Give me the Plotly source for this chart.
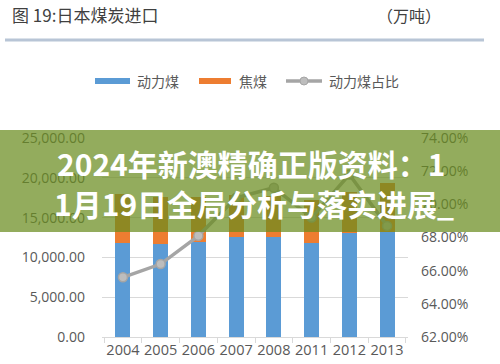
import plotly.graph_objects as go

years = ["2004", "2005", "2006", "2007", "2008", "2011", "2012", "2013"]
steam_coal = [11800, 11700, 11950, 12550, 12550, 11800, 13050, 13200]
coking_coal = [6200, 5900, 5600, 5300, 5200, 5400, 5200, 6200]
steam_share = [65.6, 66.4, 68.1, 70.4, 71.0, 69.2, 71.8, 68.7]

left_ticks = [0, 5000, 10000, 15000, 20000, 25000]
left_labels = ["0.00", "5,000.00", "10,000.00", "15,000.00", "20,000.00", "25,000.00"]
right_ticks = [62, 64, 66, 68, 70, 72, 74]
right_labels = ["62.00%", "64.00%", "66.00%", "68.00%", "70.00%", "72.00%", "74.00%"]

W, H = 500, 364
L, R, T, B = 102, 92, 138, 27

def px(x):
    return (x - L) / (W - L - R)

def py(y):
    return (H - B - y) / (H - T - B)

FONT = "Open Sans, Noto Sans CJK SC, sans-serif"
CJK = "Noto Sans CJK SC, sans-serif"
TXT = "#595959"

fig = go.Figure()
fig.add_trace(go.Bar(x=years, y=steam_coal, name="动力煤", marker_color="#5b9bd5",
                     marker_line_width=0))
fig.add_trace(go.Bar(x=years, y=coking_coal, name="焦煤", marker_color="#ed7d31",
                     marker_line_width=0))
fig.add_trace(go.Scatter(x=years, y=steam_share, name="动力煤占比", yaxis="y2",
                         mode="lines+markers",
                         line=dict(color="#a5a5a5", width=3.5),
                         marker=dict(size=9, color="#bdbdbd",
                                     line=dict(color="#a5a5a5", width=1.5))))

fig.update_layout(
    width=W, height=H, barmode="stack", bargap=0.6,
    margin=dict(l=L, r=R, t=T, b=B, autoexpand=False),
    paper_bgcolor="white", plot_bgcolor="white",
    showlegend=False,
    font=dict(family=FONT, color=TXT, size=14),
    xaxis=dict(type="category", showgrid=False, showline=True, linecolor="#d9d9d9",
               linewidth=1, ticks="outside", tickson="boundaries", ticklen=5,
               tickcolor="#d9d9d9", tickangle=0, automargin=False,
               tickfont=dict(size=14.5, color=TXT)),
    yaxis=dict(range=[0, 25000], tickvals=left_ticks, ticktext=left_labels,
               showgrid=True, gridcolor="#d9d9d9", gridwidth=1, zeroline=False,
               automargin=False,
               ticklabelstandoff=16, tickfont=dict(size=14, color=TXT)),
    yaxis2=dict(range=[62, 74], tickvals=right_ticks, ticktext=right_labels,
                overlaying="y", side="right", showgrid=False, zeroline=False,
                automargin=False,
                ticklabelstandoff=12, tickfont=dict(size=14, color=TXT)),
)

shapes = []
annotations = []
# header
annotations.append(dict(text="图 19:日本煤炭进口", x=px(10), y=py(14), xref="paper", yref="paper",
                        xanchor="left", yanchor="middle", showarrow=False,
                        font=dict(family=CJK, size=17, color="#404040")))
annotations.append(dict(text="（万吨）", x=px(375), y=py(15), xref="paper", yref="paper",
                        xanchor="left", yanchor="middle", showarrow=False,
                        font=dict(family=CJK, size=16, color="#404040")))
shapes.append(dict(type="line", xref="paper", yref="paper", x0=px(5), x1=px(484),
                   y0=py(40), y1=py(40), line=dict(color="#b8c5d6", width=3)))
# legend
leg_y = py(81)
shapes.append(dict(type="rect", xref="paper", yref="paper", x0=px(95), x1=px(130),
                   y0=py(84), y1=py(78), fillcolor="#5b9bd5", line_width=0))
annotations.append(dict(text="动力煤", x=px(135), y=leg_y, xref="paper", yref="paper",
                        xanchor="left", yanchor="middle", showarrow=False,
                        font=dict(family=CJK, size=14, color=TXT)))
shapes.append(dict(type="rect", xref="paper", yref="paper", x0=px(199), x1=px(231),
                   y0=py(84), y1=py(78), fillcolor="#ed7d31", line_width=0))
annotations.append(dict(text="焦煤", x=px(237), y=leg_y, xref="paper", yref="paper",
                        xanchor="left", yanchor="middle", showarrow=False,
                        font=dict(family=CJK, size=14, color=TXT)))
shapes.append(dict(type="line", xref="paper", yref="paper", x0=px(286), x1=px(322),
                   y0=leg_y, y1=leg_y, line=dict(color="#a5a5a5", width=3.5)))
shapes.append(dict(type="circle", xref="paper", yref="paper", x0=px(300), x1=px(308),
                   y0=py(85), y1=py(77), fillcolor="#bdbdbd", line=dict(color="#a5a5a5", width=1)))
annotations.append(dict(text="动力煤占比", x=px(327), y=leg_y, xref="paper", yref="paper",
                        xanchor="left", yanchor="middle", showarrow=False,
                        font=dict(family=CJK, size=14, color=TXT)))
# banner overlay
shapes.append(dict(type="rect", xref="paper", yref="paper", x0=px(0), x1=px(500),
                   y0=py(232), y1=py(130), fillcolor="rgba(105,140,30,0.72)",
                   line_width=0, layer="above"))
annotations.append(dict(text="<b>2024年新澳精确正版资料：1</b>", x=px(251), y=py(163),
                        xref="paper", yref="paper", xanchor="center", yanchor="middle",
                        showarrow=False, font=dict(family=CJK, size=30, color="white")))
annotations.append(dict(text="<b>1月19日全局分析与落实进展_</b>", x=px(254), y=py(203),
                        xref="paper", yref="paper", xanchor="center", yanchor="middle",
                        showarrow=False, font=dict(family=CJK, size=30, color="white")))

fig.update_layout(shapes=shapes, annotations=annotations)
fig.write_html("out.html", config={"displayModeBar": False},
               post_script="document.body.style.margin='0';document.body.style.padding='0';")
